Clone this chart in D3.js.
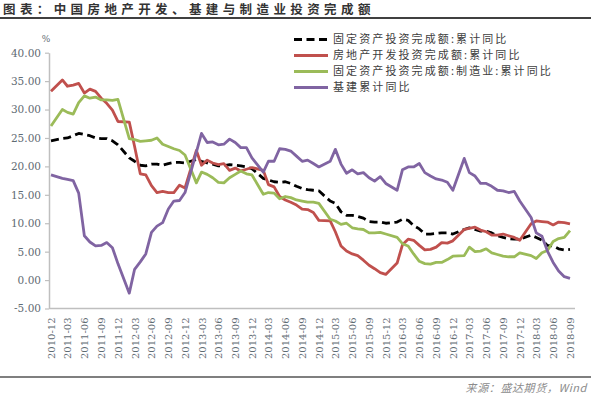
<!DOCTYPE html>
<html>
<head>
<meta charset="utf-8">
<script src="https://cdn.jsdelivr.net/npm/d3@7"></script>
<style>
body { margin: 0; background: #fff; }
svg { display: block; }
</style>
</head>
<body>
<svg width="591" height="398"></svg>
<script>
/*
DATI - mesi (gennaio assente, dato cumulato gen-feb) e serie in %
*/
var mesi = [
	"2010-12",
	"2011-02","2011-03","2011-04","2011-05","2011-06","2011-07","2011-08","2011-09","2011-10","2011-11","2011-12",
	"2012-02","2012-03","2012-04","2012-05","2012-06","2012-07","2012-08","2012-09","2012-10","2012-11","2012-12",
	"2013-02","2013-03","2013-04","2013-05","2013-06","2013-07","2013-08","2013-09","2013-10","2013-11","2013-12",
	"2014-02","2014-03","2014-04","2014-05","2014-06","2014-07","2014-08","2014-09","2014-10","2014-11","2014-12",
	"2015-02","2015-03","2015-04","2015-05","2015-06","2015-07","2015-08","2015-09","2015-10","2015-11","2015-12",
	"2016-02","2016-03","2016-04","2016-05","2016-06","2016-07","2016-08","2016-09","2016-10","2016-11","2016-12",
	"2017-02","2017-03","2017-04","2017-05","2017-06","2017-07","2017-08","2017-09","2017-10","2017-11","2017-12",
	"2018-02","2018-03","2018-04","2018-05","2018-06","2018-07","2018-08","2018-09"
];

var fissi = [24.5,
	24.9,25.0,25.4,25.8,25.6,25.4,25.0,24.9,24.9,24.5,23.8,
	21.5,20.9,20.2,20.1,20.4,20.4,20.2,20.5,20.7,20.7,20.6,
	21.2,20.9,20.6,20.4,20.1,20.1,20.3,20.2,20.1,19.9,19.6,
	17.9,17.6,17.3,17.2,17.3,17.0,16.5,16.1,15.9,15.8,15.7,
	13.9,13.5,12.0,11.4,11.4,11.2,10.9,10.3,10.2,10.2,10.0,
	10.2,10.7,10.5,9.6,9.0,8.1,8.1,8.2,8.3,8.3,8.1,
	8.9,9.2,8.9,8.6,8.6,8.3,7.8,7.5,7.3,7.2,7.2,
	7.9,7.5,7.0,6.1,6.0,5.5,5.3,5.4];

var immobiliare = [33.2,
	35.2,34.1,34.3,34.6,32.9,33.6,33.2,32.0,31.1,29.9,27.9,
	27.8,23.5,18.7,18.5,16.6,15.4,15.6,15.4,15.4,16.7,16.2,
	22.8,20.2,21.1,20.6,20.3,20.5,19.3,19.7,19.2,19.5,19.8,
	19.3,16.8,16.4,14.7,14.1,13.7,13.2,12.5,12.4,11.9,10.5,
	10.4,8.5,6.0,5.1,4.6,4.3,3.5,2.6,2.0,1.3,1.0,
	3.0,6.2,7.2,7.0,6.1,5.3,5.4,5.8,6.6,6.5,6.9,
	8.9,9.1,9.3,8.8,8.5,7.9,7.9,8.1,7.8,7.5,7.0,
	9.9,10.4,10.3,10.2,9.7,10.2,10.1,9.9];

var manifattura = [27.1,
	30.0,29.5,29.2,31.2,32.4,32.0,32.2,31.7,31.7,31.6,31.8,
	24.9,24.7,24.4,24.5,24.6,25.0,23.9,23.5,23.1,22.8,22.0,
	17.1,19.0,18.6,18.0,17.2,17.1,18.0,18.6,19.2,18.7,18.5,
	15.1,15.4,15.3,14.3,14.7,14.5,14.1,13.9,13.7,13.7,13.5,
	10.7,10.4,9.8,10.0,9.2,9.0,8.9,8.3,8.3,8.4,8.1,
	7.5,6.4,6.0,4.6,3.3,2.9,2.8,3.1,3.1,3.6,4.2,
	4.3,5.8,5.0,5.1,5.5,4.8,4.5,4.2,4.1,4.1,4.8,
	4.3,3.8,4.8,5.2,6.8,7.3,7.5,8.7];

var infrastrutture = [18.5,
	17.9,17.7,17.5,15.3,7.8,6.7,6.0,6.1,6.6,5.7,2.9,
	-2.3,1.9,3.2,4.6,8.4,9.5,10.1,12.5,13.9,14.0,15.4,
	22.5,25.8,24.2,24.3,23.8,23.9,24.8,24.2,23.3,23.3,21.5,
	19.0,20.9,20.9,23.1,23.0,22.7,21.8,20.9,21.1,20.5,19.9,
	20.9,23.0,20.4,18.8,19.4,18.7,18.9,18.0,17.4,18.2,17.0,
	15.8,19.4,19.9,19.9,20.5,18.9,18.3,17.8,17.6,17.2,15.8,
	21.4,18.9,18.3,17.0,17.0,16.5,15.8,15.7,15.4,15.6,13.9,
	11.0,8.3,7.7,5.1,3.1,1.6,0.6,0.3];

var etichetteX = ["2010-12",
	"2011-03","2011-06","2011-09","2011-12","2012-03","2012-06","2012-09","2012-12",
	"2013-03","2013-06","2013-09","2013-12","2014-03","2014-06","2014-09","2014-12",
	"2015-03","2015-06","2015-09","2015-12","2016-03","2016-06","2016-09","2016-12",
	"2017-03","2017-06","2017-09","2017-12","2018-03","2018-06","2018-09"];

var etichetteY = [-5,0,5,10,15,20,25,30,35,40];

var nomiSerie = ["固定资产投资完成额:累计同比","房地产开发投资完成额:累计同比","固定资产投资完成额:制造业:累计同比","基建累计同比"];
var coloriSerie = ["#000000","#c0504d","#9bbb59","#8064a2"];

/*
=========
LIVELLO 0
=========
*/
var svg = d3.select("svg");
var larghezza = 591;
var parseMese = d3.timeParse("%Y-%m");

var x = d3.scaleTime()
	.domain([parseMese("2010-12"), parseMese("2018-09")])
	.range([51, 570]);

var y = d3.scaleLinear()
	.domain([-5, 40])
	.range([308.5, 52.7]);

// titolo e linee di cornice
svg.append("text")
	.attr("x", 3)
	.attr("y", 13.5)
	.attr("font-family", "'Noto Sans CJK SC', sans-serif")
	.attr("font-size", "12.5px")
	.attr("font-weight", "bold")
	.attr("letter-spacing", "4.4px")
	.attr("fill", "#333")
	.text("图表：中国房地产开发、基建与制造业投资完成额");

svg.append("line")
	.attr("x1", 0).attr("x2", larghezza)
	.attr("y1", 18).attr("y2", 18)
	.style("stroke", "#000")
	.attr("stroke-width", 1.5);

svg.append("line")
	.attr("x1", 0).attr("x2", larghezza)
	.attr("y1", 377).attr("y2", 377)
	.style("stroke", "#000")
	.attr("stroke-width", 1.2);

svg.append("text")
	.attr("x", 587)
	.attr("y", 392)
	.attr("text-anchor", "end")
	.attr("font-family", "'Noto Sans CJK SC', serif")
	.attr("font-size", "11px")
	.attr("font-style", "italic")
	.attr("letter-spacing", "0.6px")
	.attr("fill", "#8c8c8c")
	.text("来源：盛达期货，Wind");

// asse y
var assey = svg.append("g")
	.attr("transform", "translate(49,0)")
	.call(d3.axisLeft(y)
		.tickValues(etichetteY)
		.tickSize(4)
		.tickSizeOuter(0)
		.tickFormat(function(d){ return d.toFixed(2) }));
assey.select(".domain").style("stroke", "#bfbfbf").attr("stroke-width", 1.5);
assey.selectAll(".tick line").style("stroke", "#bfbfbf").attr("stroke-width", 1.2);
assey.selectAll(".tick text")
	.attr("x", -8)
	.attr("font-family", "'DejaVu Serif', serif")
	.attr("font-size", "10.5px")
	.attr("fill", "#5f6b73");

svg.append("text")
	.attr("x", 46)
	.attr("y", 42)
	.attr("text-anchor", "middle")
	.attr("font-family", "'DejaVu Serif', serif")
	.attr("font-size", "9px")
	.attr("fill", "#5f6b73")
	.text("%");

// asse x
svg.append("line")
	.attr("x1", 49).attr("x2", 575)
	.attr("y1", y(-5)).attr("y2", y(-5))
	.style("stroke", "#bfbfbf")
	.attr("stroke-width", 1.5);

var assex = svg.append("g")
	.attr("transform", "translate(0," + y(-5) + ")")
	.call(d3.axisBottom(x)
		.tickValues(etichetteX.map(parseMese))
		.tickSize(0)
		.tickFormat(d3.timeFormat("%Y-%m")));
assex.select(".domain").remove();
assex.selectAll(".tick text")
	.attr("transform", "rotate(-90)")
	.attr("text-anchor", "end")
	.attr("x", -9)
	.attr("y", 0)
	.attr("dy", "0.35em")
	.attr("font-family", "'DejaVu Serif', serif")
	.attr("font-size", "10px")
	.attr("fill", "#5f6b73");

// linee delle serie
var serie = [fissi, immobiliare, manifattura, infrastrutture];
var linea = d3.line()
	.x(function(d){ return x(d.data) })
	.y(function(d){ return y(d.valore) });

serie.forEach(function(valori, k){
	var punti = valori.map(function(v, i){
		return {data: parseMese(mesi[i]), valore: v}
	});
	svg.append("path")
		.datum(punti)
		.attr("d", linea)
		.attr("fill", "none")
		.style("stroke", coloriSerie[k])
		.attr("stroke-width", 2.8)
		.attr("stroke-linejoin", "round")
		.style("stroke-dasharray", k == 0 ? "8,4.5" : null);
});

// legenda
var legenda = svg.append("g")
	.selectAll("g")
	.data(nomiSerie)
	.enter().append("g")
	.attr("transform", function(d,i){ return "translate(294," + (39.5 + i*16) + ")" });
legenda.append("line")
	.attr("x1", 0).attr("x2", 34)
	.attr("y1", 0).attr("y2", 0)
	.style("stroke", function(d,i){ return coloriSerie[i] })
	.attr("stroke-width", 2.8)
	.style("stroke-dasharray", function(d,i){ return i == 0 ? "8,4.5" : null });
legenda.append("text")
	.attr("x", 39)
	.attr("y", 0)
	.attr("dy", "0.35em")
	.attr("font-family", "'Noto Sans CJK SC', sans-serif")
	.attr("font-size", "11px")
	.attr("letter-spacing", "2.1px")
	.attr("fill", "#404040")
	.text(function(d){ return d });
</script>
</body>
</html>
